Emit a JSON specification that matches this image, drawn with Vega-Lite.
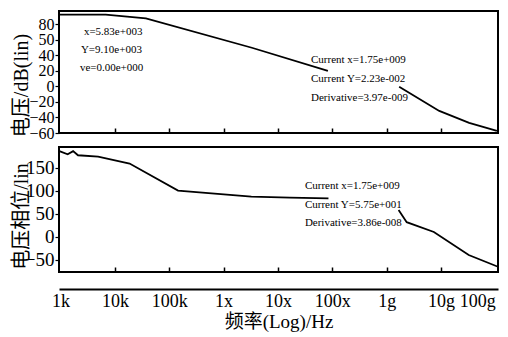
{
  "$schema": "https://vega.github.io/schema/vega-lite/v6.json",
  "background": "white",
  "padding": {"left": 10, "top": 10, "right": 8, "bottom": 8},
  "bounds": "flush",
  "spacing": 14,
  "config": {
    "font": "Liberation Serif",
    "view": {"stroke": "black", "strokeWidth": 2},
    "axis": {"labelColor": "black", "titleColor": "black", "tickColor": "black", "domainColor": "black", "grid": false, "labelFont": "Liberation Serif", "titleFont": "Liberation Serif, Noto Sans CJK SC", "titleFontWeight": "normal", "labelOverlap": false}
  },
  "datasets": {
    "mag": [
      {"f": 950, "v": 92.3, "seg": "a"},
      {"f": 6760, "v": 92.3, "seg": "a"},
      {"f": 37150, "v": 87.5, "seg": "a"},
      {"f": 3310000, "v": 49.7, "seg": "a"},
      {"f": 83000000, "v": 20, "seg": "a"},
      {"f": 1700000000, "v": -0.6, "seg": "b"},
      {"f": 9300000000, "v": -31.6, "seg": "b"},
      {"f": 33000000000, "v": -47, "seg": "b"},
      {"f": 107000000000, "v": -57.4, "seg": "b"}
    ],
    "phase": [
      {"f": 950, "v": 186, "seg": "a"},
      {"f": 1350, "v": 179, "seg": "a"},
      {"f": 1700, "v": 186, "seg": "a"},
      {"f": 2090, "v": 177, "seg": "a"},
      {"f": 4900, "v": 174, "seg": "a"},
      {"f": 18600, "v": 159, "seg": "a"},
      {"f": 145000, "v": 100, "seg": "a"},
      {"f": 3240000, "v": 87, "seg": "a"},
      {"f": 16600000, "v": 85, "seg": "a"},
      {"f": 85000000, "v": 83, "seg": "a"},
      {"f": 1660000000, "v": 58, "seg": "b"},
      {"f": 2340000000, "v": 31.5, "seg": "b"},
      {"f": 7400000000, "v": 10, "seg": "b"},
      {"f": 32400000000, "v": -40, "seg": "b"},
      {"f": 112000000000, "v": -65.5, "seg": "b"}
    ],
    "notesTop": [
      {"f": 2685, "v": 70.3, "t": "x=5.83e+003"},
      {"f": 2366, "v": 47.1, "t": "Y=9.10e+003"},
      {"f": 2265, "v": 23.9, "t": "ve=0.00e+000"},
      {"f": 40500000, "v": 34.2, "t": "Current x=1.75e+009"},
      {"f": 40500000, "v": 9.7, "t": "Current Y=2.23e-002"},
      {"f": 40500000, "v": -14.8, "t": "Derivative=3.97e-009"}
    ],
    "notesBottom": [
      {"f": 31300000, "v": 110.1, "t": "Current x=1.75e+009"},
      {"f": 31300000, "v": 68.8, "t": "Current Y=5.75e+001"},
      {"f": 31300000, "v": 29.6, "t": "Derivative=3.86e-008"}
    ]
  },
  "vconcat": [
    {
      "width": 439,
      "height": 122,
      "encoding": {
        "x": {"field": "f", "type": "quantitative", "scale": {"type": "log", "domain": [935, 112000000000], "nice": false},
              "axis": {"values": [10000, 100000, 1000000, 10000000, 100000000, 1000000000, 10000000000], "labels": false, "domain": false, "tickSize": -5, "tickWidth": 1.5, "title": null}},
        "y": {"field": "v", "type": "quantitative", "scale": {"domain": [-60, 97], "nice": false, "zero": false},
              "axis": {"values": [-60, -40, -20, 0, 20, 40, 60, 80], "labelExpr": "datum.value == 60 ? '50' : datum.label", "labelFontSize": 16, "labelOverlap": false, "labelBound": false, "labelPadding": 1, "tickSize": 4, "tickWidth": 1.2, "domain": false,
                       "title": "电压/dB(lin)", "titleFontSize": 20, "titleAngle": 270, "titleX": -38, "titleY": 74, "titleAlign": "center", "titleBaseline": "middle"}}
      },
      "layer": [
        {
          "data": {"name": "mag"},
          "mark": {"type": "line", "color": "black", "strokeWidth": 1.8},
          "encoding": {"detail": {"field": "seg"}}
        },
        {
          "data": {"name": "notesTop"},
          "mark": {"type": "text", "align": "left", "baseline": "middle", "fontSize": 11, "color": "black", "font": "Liberation Serif"},
          "encoding": {"text": {"field": "t"}}
        }
      ]
    },
    {
      "width": 439,
      "height": 125,
      "encoding": {
        "x": {"field": "f", "type": "quantitative", "scale": {"type": "log", "domain": [935, 112000000000], "nice": false},
              "axis": {"values": [10000, 100000, 1000000, 10000000, 100000000, 1000000000, 10000000000], "labels": false, "domain": false, "tickSize": -5, "tickWidth": 1.5, "title": null}},
        "y": {"field": "v", "type": "quantitative", "scale": {"domain": [-77, 195], "nice": false, "zero": false},
              "axis": {"values": [-50, 0, 50, 100, 150], "labelFontSize": 19, "labelOverlap": false, "labelBound": false, "labelPadding": 1, "tickSize": 4, "tickWidth": 1.2, "domain": false,
                       "title": "电压相位/lin", "titleFontSize": 20, "titleAngle": 270, "titleX": -38, "titleY": 69, "titleAlign": "center", "titleBaseline": "middle"}}
      },
      "layer": [
        {
          "data": {"name": "phase"},
          "mark": {"type": "line", "color": "black", "strokeWidth": 1.8},
          "encoding": {"detail": {"field": "seg"}}
        },
        {
          "data": {"name": "notesBottom"},
          "mark": {"type": "text", "align": "left", "baseline": "middle", "fontSize": 11, "color": "black", "font": "Liberation Serif"},
          "encoding": {"text": {"field": "t"}}
        }
      ]
    },
    {
      "width": 439,
      "height": 3,
      "view": {"stroke": null},
      "data": {"name": "mag"},
      "mark": {"type": "rule", "opacity": 0},
      "encoding": {
        "x": {"field": "f", "type": "quantitative", "scale": {"type": "log", "domain": [935, 112000000000], "nice": false},
              "axis": {"values": [1000, 10000, 100000, 1000000, 10000000, 100000000, 1000000000, 10000000000, 100000000000],
                       "labelExpr": "datum.value == 1000 ? '1k' : datum.value == 10000 ? '10k' : datum.value == 100000 ? '100k' : datum.value == 1000000 ? '1x' : datum.value == 10000000 ? '10x' : datum.value == 100000000 ? '100x' : datum.value == 1000000000 ? '1g' : datum.value == 10000000000 ? '10g' : '100g'",
                       "labelAlign": {"condition": {"test": "datum.value >= 100000000000", "value": "right"}, "value": "center"},
                       "labelFontSize": 18, "labelOverlap": false, "labelBound": false, "labelFlush": false, "labelPadding": 3,
                       "ticks": false, "domain": true, "domainWidth": 2,
                       "title": "频率(Log)/Hz", "titleFontSize": 19, "titlePadding": 2}}
      }
    }
  ]
}
